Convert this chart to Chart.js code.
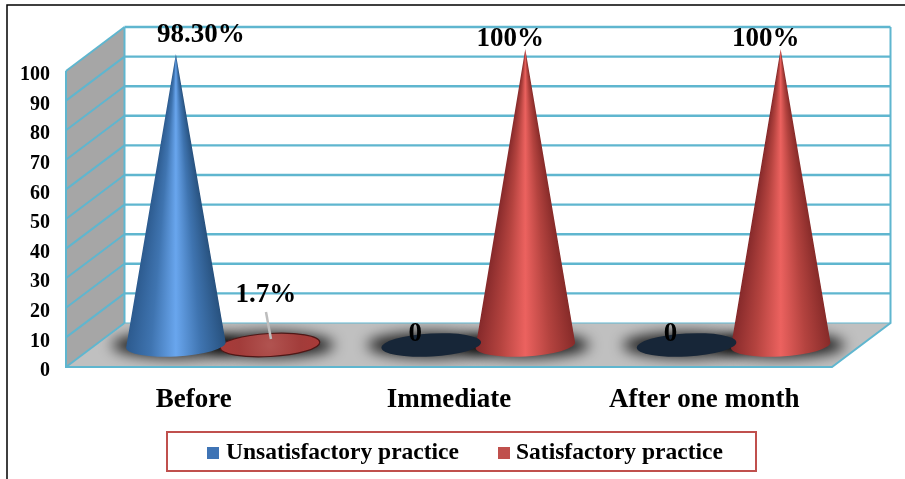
<!DOCTYPE html>
<html>
<head>
<meta charset="utf-8">
<title>Practice before and after</title>
<script src="https://cdn.jsdelivr.net/npm/chart.js@4"></script>
<style>
    html, body { margin: 0; padding: 0; background: #fff; }
    canvas { display: block; }
</style>
</head>
<body>
<canvas id="chart" width="905" height="479"></canvas>
<script>
const categories = ['Before', 'Immediate', 'After one month'];
const unsatisfactory = [98.3, 0, 0];
const satisfactory = [1.7, 100, 100];
const unsatisfactoryLabels = ['98.30%', '0', '0'];
const satisfactoryLabels = ['1.7%', '100%', '100%'];
const yTicks = [0, 10, 20, 30, 40, 50, 60, 70, 80, 90, 100];

const SERIF = '"Liberation Serif", "Times New Roman", serif';
const GRID = '#5fb6cf';
// offset of the back wall from the front plane
const DEPTH_X = 58.5;
const DEPTH_Y = -44;
const BASE_RY = 11.5;
const BASE_ROT = -3.2 * Math.PI / 180;

const palettes = {
    blue: { stops: ['#2c5a8e', '#3f74b0', '#69a6ee', '#3f74b0', '#28527f'], flat: '#172638', swatch: '#3f74b5' },
    red: { stops: ['#85292a', '#b4433f', '#ec625f', '#b4433f', '#872b29'], flat: '#a63a38', swatch: '#c0504d' }
};

// Bar element drawn as a cone standing halfway back on the floor
class ConeElement extends Chart.BarElement {
    static id = 'cone';
    static defaults = { ...Chart.BarElement.defaults, palette: 'blue' };
    static defaultRoutes = Chart.BarElement.defaultRoutes;

    draw(ctx) {
        const pal = palettes[this.options.palette];
        const cx = this.x + DEPTH_X / 2;
        const baseY = Math.round(this.base + DEPTH_Y / 2);
        const h = Math.round(this.base - this.y);
        const rx = this.width / 2;

        ctx.save();
        ctx.translate(cx, baseY);

        if (h <= BASE_RY) {
            ctx.beginPath();
            ctx.ellipse(0, 0, rx, BASE_RY, BASE_ROT, 0, Math.PI * 2);
            if (h > 0) {
                const disc = ctx.createRadialGradient(0, 0, 2, 0, 0, rx);
                disc.addColorStop(0, '#b0524f');
                disc.addColorStop(0.6, '#a23c3a');
                disc.addColorStop(1, '#a93a38');
                ctx.fillStyle = disc;
                ctx.fill();
                ctx.strokeStyle = '#4f1716';
                ctx.lineWidth = 1.2;
                ctx.stroke();
            } else {
                ctx.fillStyle = pal.flat;
                ctx.fill();
            }
            ctx.restore();
            return;
        }

        ctx.beginPath();
        ctx.moveTo(0, -h);
        ctx.lineTo(rx * Math.cos(BASE_ROT), rx * Math.sin(BASE_ROT));
        ctx.ellipse(0, 0, rx, BASE_RY, BASE_ROT, 0, Math.PI);
        ctx.closePath();
        ctx.clip();

        // shading follows the local width so it narrows toward the tip
        for (let row = -h; row < BASE_RY + 4; row++) {
            const w = Math.max(0.5, rx * Math.min(1, (row + h) / h));
            const g = ctx.createLinearGradient(-w, 0, w, 0);
            g.addColorStop(0, pal.stops[0]);
            g.addColorStop(0.25, pal.stops[1]);
            g.addColorStop(0.5, pal.stops[2]);
            g.addColorStop(0.75, pal.stops[3]);
            g.addColorStop(1, pal.stops[4]);
            ctx.fillStyle = g;
            ctx.fillRect(-w - 1, row, 2 * w + 2, 1);
        }
        ctx.restore();
    }
}

class ConeController extends Chart.BarController {
    static id = 'cone';
    static defaults = { ...Chart.BarController.defaults, dataElementType: 'cone' };
    static overrides = Chart.BarController.overrides;
}

Chart.register(ConeElement, ConeController);

const stagePlugin = {
    id: 'stage',

    // nudge the value axis labels down a little
    beforeDraw(chart) {
        chart.scales.y.getLabelItems().forEach(item => {
            const [tx, ty] = item.options.translation;
            item.options.translation = [tx, ty + 4];
        });
    },

    // frame, walls, floor and the soft shadows under the cones
    beforeDatasetsDraw(chart) {
        const { ctx, chartArea: area, scales: { y } } = chart;
        const zero = y.getPixelForValue(0);
        const top = y.getPixelForValue(100);
        const bx = area.left + DEPTH_X;
        const rx = area.right + DEPTH_X;

        ctx.save();
        ctx.strokeStyle = '#000';
        ctx.lineWidth = 1.5;
        ctx.beginPath();
        ctx.moveTo(7, 479);
        ctx.lineTo(7, 5);
        ctx.lineTo(905, 5);
        ctx.stroke();

        // side wall
        ctx.fillStyle = '#a6a6a6';
        ctx.beginPath();
        ctx.moveTo(area.left, zero);
        ctx.lineTo(area.left, top);
        ctx.lineTo(bx, top + DEPTH_Y);
        ctx.lineTo(bx, zero + DEPTH_Y);
        ctx.closePath();
        ctx.fill();

        // floor
        ctx.fillStyle = '#c0c0c0';
        ctx.beginPath();
        ctx.moveTo(area.left, zero);
        ctx.lineTo(area.right, zero);
        ctx.lineTo(rx, zero + DEPTH_Y);
        ctx.lineTo(bx, zero + DEPTH_Y);
        ctx.closePath();
        ctx.fill();

        ctx.save();
        ctx.clip();
        ctx.filter = 'blur(7px)';
        ctx.fillStyle = 'rgba(0,0,0,0.85)';
        chart.getSortedVisibleDatasetMetas().forEach(meta => {
            meta.data.forEach(bar => {
                ctx.beginPath();
                ctx.ellipse(bar.x + DEPTH_X / 2, bar.base + DEPTH_Y / 2, bar.width / 2 + 14, BASE_RY + 1, 0, 0, Math.PI * 2);
                ctx.fill();
            });
        });
        ctx.restore();

        ctx.strokeStyle = GRID;
        ctx.lineWidth = 2.4;
        yTicks.forEach(v => {
            const py = y.getPixelForValue(v);
            ctx.lineWidth = v === 0 ? 1.2 : 2.4;
            ctx.beginPath();
            ctx.moveTo(bx, py + DEPTH_Y);
            ctx.lineTo(rx, py + DEPTH_Y);
            ctx.stroke();
            ctx.lineWidth = 2;
            ctx.beginPath();
            ctx.moveTo(area.left, py);
            ctx.lineTo(bx, py + DEPTH_Y);
            ctx.stroke();
        });

        ctx.lineWidth = 2;
        ctx.beginPath();
        ctx.moveTo(area.left, top);
        ctx.lineTo(area.left, zero);
        ctx.lineTo(area.right, zero);
        ctx.lineTo(rx, zero + DEPTH_Y);
        ctx.lineTo(rx, top + DEPTH_Y);
        ctx.moveTo(bx, top + DEPTH_Y);
        ctx.lineTo(bx, zero + DEPTH_Y);
        ctx.stroke();
        ctx.restore();
    },

    // value labels and the boxed legend
    afterDatasetsDraw(chart) {
        const { ctx } = chart;
        const blue = chart.getDatasetMeta(0).data;
        const red = chart.getDatasetMeta(1).data;

        ctx.save();
        ctx.fillStyle = '#000';
        ctx.textAlign = 'center';
        ctx.textBaseline = 'middle';
        ctx.font = 'bold 27px ' + SERIF;

        blue.forEach((bar, i) => {
            const cx = bar.x + DEPTH_X / 2;
            const py = bar.y + DEPTH_Y / 2;
            if (unsatisfactory[i] > 0) {
                ctx.fillText(unsatisfactoryLabels[i], cx + 25, py - 19.5);
            } else {
                ctx.fillText(unsatisfactoryLabels[i], cx - 16, py - 10.5);
            }
        });
        red.forEach((bar, i) => {
            const cx = bar.x + DEPTH_X / 2;
            const py = bar.y + DEPTH_Y / 2;
            if (satisfactory[i] > 10) {
                ctx.fillText(satisfactoryLabels[i], cx - 15, py - 9.5);
            } else {
                ctx.fillText(satisfactoryLabels[i], cx - 4, py - 45);
                ctx.strokeStyle = '#bdbdbd';
                ctx.lineWidth = 2.5;
                ctx.beginPath();
                ctx.moveTo(cx - 4, py - 28);
                ctx.lineTo(cx + 1, py - 1);
                ctx.stroke();
            }
        });

        // legend
        ctx.strokeStyle = '#c0504d';
        ctx.lineWidth = 2;
        ctx.fillStyle = '#fff';
        ctx.fillRect(167, 432, 589, 39);
        ctx.strokeRect(167, 432, 589, 39);

        ctx.textAlign = 'left';
        ctx.font = 'bold 23.5px ' + SERIF;
        const entries = [[207, 226], [498, 516]];
        chart.data.datasets.forEach((ds, i) => {
            ctx.fillStyle = palettes[ds.palette].swatch;
            ctx.fillRect(entries[i][0], 447, 12, 12);
            ctx.fillStyle = '#000';
            ctx.fillText(ds.label, entries[i][1], 453);
        });
        ctx.restore();
    }
};

new Chart(document.getElementById('chart'), {
    type: 'cone',
    plugins: [stagePlugin],
    data: {
        labels: categories,
        datasets: [
            { label: 'Unsatisfactory practice', data: unsatisfactory, palette: 'blue', clip: false },
            { label: 'Satisfactory practice', data: satisfactory, palette: 'red', clip: false }
        ]
    },
    options: {
        responsive: false,
        animation: false,
        categoryPercentage: 0.737,
        barPercentage: 1.06,
        layout: { padding: { top: 71, right: 73, bottom: 0, left: 0 } },
        plugins: {
            legend: { display: false },
            tooltip: { enabled: false }
        },
        scales: {
            x: {
                grid: { display: false },
                border: { display: false },
                afterFit: s => { s.height = 112; },
                ticks: { color: '#000', padding: 9, maxRotation: 0, font: { family: SERIF, size: 27, weight: 'bold' } }
            },
            y: {
                min: 0,
                max: 100,
                grid: { display: false },
                border: { display: false },
                afterFit: s => { s.width = 66; },
                afterBuildTicks: s => { s.ticks = yTicks.map(value => ({ value })); },
                ticks: { color: '#000', padding: 8, font: { family: SERIF, size: 20, weight: 'bold' } }
            }
        }
    }
});
</script>
</body>
</html>
